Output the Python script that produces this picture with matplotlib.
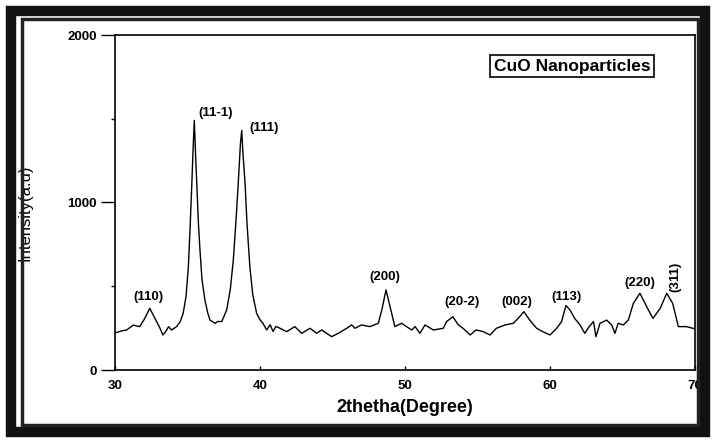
import matplotlib
matplotlib.use("Agg")
import matplotlib.pyplot as plt
from matplotlib.patches import Rectangle

plt.rcParams['font.family'] = ['Liberation Sans', 'DejaVu Sans']

two_theta = [30.0, 30.4, 30.8, 31.26, 31.7, 32.0, 32.4, 32.87, 33.1, 33.3, 33.5, 33.7, 33.9,
             34.25, 34.5, 34.7, 34.9, 35.06, 35.18, 35.3, 35.4, 35.47, 35.55, 35.64, 35.75,
             35.86, 36.0, 36.2, 36.4, 36.55, 36.9, 37.1, 37.36,
             37.7, 37.95, 38.16, 38.35, 38.5, 38.65, 38.74, 38.82, 38.97, 39.1, 39.3, 39.5,
             39.77, 40.0, 40.2, 40.46, 40.7, 40.9, 41.1,
             41.38, 41.84, 42.4, 42.87, 43.45, 43.9, 44.25, 44.94, 45.4, 45.98, 46.32, 46.55,
             47.0, 47.59, 48.16, 48.4, 48.69, 48.97, 49.3, 49.77, 50.1, 50.46, 50.7, 51.03,
             51.38, 51.95, 52.64, 52.87, 53.3, 53.68, 54.0, 54.5, 54.9, 55.4, 55.86, 56.3,
             56.9, 57.47, 57.8, 58.2, 58.6, 59.08, 59.5, 60.0, 60.46, 60.8, 61.1, 61.38,
             61.7, 62.07, 62.4, 62.7, 63.0, 63.17, 63.45, 63.9, 64.25, 64.48, 64.7, 65.06,
             65.4, 65.75, 66.2, 66.67, 67.1, 67.6, 68.05, 68.46, 68.85, 69.4, 69.86, 70.0]
intensity = [221, 232, 239, 268, 259, 300, 368, 289, 250, 209, 230, 259, 239,
             259, 290, 338, 440, 617, 850, 1115, 1350, 1490, 1300, 1115, 880,
             716, 540, 418, 340, 298, 279, 290, 289,
             358, 480, 657, 900, 1115, 1350, 1430, 1300, 1115, 880, 617, 450,
             338, 300, 279, 239, 270, 230, 260,
             249, 229, 259, 219, 249, 219, 239, 199, 219, 249, 269, 249,
             269, 259, 279, 358, 478, 378, 259, 279, 259, 239, 259, 219,
             269, 239, 249, 289, 318, 269, 249, 209, 239, 229, 209, 249,
             269, 279, 308, 348, 298, 249, 229, 209, 249, 289, 385, 358,
             308, 269, 219, 259, 289, 199, 279, 298, 269, 219, 279, 269,
             298, 398, 458, 378, 308, 368, 458, 398, 259, 259, 249, 245]

peak_labels = ["(110)", "(11-1)", "(111)", "(200)", "(20-2)", "(002)", "(113)", "(220)", "(311)"]
peak_x = [32.28, 36.97, 40.28, 48.62, 53.93, 57.72, 61.17, 66.2, 68.62]
peak_y = [436, 1534, 1445, 555, 406, 406, 436, 519, 555]
peak_rot = [0, 0, 0, 0, 0, 0, 0, 0, 90]

x_ticks = [30, 40, 50, 60, 70]
y_ticks = [0, 1000, 2000]
y_minor = [500, 1500]

W, H = 713, 440
fig = plt.figure(figsize=(W / 100, H / 100), dpi=100)
ax = fig.add_axes([115 / W, 70 / H, 580 / W, 335 / H])

ax.plot(two_theta, intensity, color='black', lw=1.0)
ax.set_xlim(30, 70)
ax.set_ylim(0, 2000)
ax.set_xticks(x_ticks)
ax.set_yticks(y_ticks)
ax.set_yticks(y_minor, minor=True)
ax.tick_params(axis='y', which='major', direction='out', length=10, width=1, labelsize=9.5, pad=3)
ax.tick_params(axis='y', which='minor', direction='out', length=3, width=1)
ax.tick_params(axis='x', which='major', direction='in', length=3, width=1, labelsize=9.5, pad=7)
for lab in ax.get_xticklabels() + ax.get_yticklabels():
    lab.set_fontweight('bold')
for s in ax.spines.values():
    s.set_linewidth(1.2)

ax.set_xlabel("2thetha(Degree)", fontsize=13, fontweight='bold', labelpad=5)
ax.set_ylabel("Intensity(a.u)", fontsize=12)
ax.yaxis.set_label_coords(-0.142, 0.47)

for lab, x, y, r in zip(peak_labels, peak_x, peak_y, peak_rot):
    ax.text(x, y, lab, ha='center', va='center', fontsize=9.5, fontweight='bold', rotation=r)

ax.text(0.788, 0.907, "CuO Nanoparticles", transform=ax.transAxes, ha='center', va='center',
        fontsize=12.5, fontweight='bold',
        bbox=dict(boxstyle='square,pad=0.22', fc='white', ec='black', lw=1.2))

# scanned-figure frame
fig.add_artist(Rectangle((11 / W, 1 - 432 / H), 694 / W, 421 / H, transform=fig.transFigure,
                         fill=False, ec='#111111', lw=7.5))
fig.add_artist(Rectangle((22 / W, 1 - 425 / H), 676 / W, 406 / H, transform=fig.transFigure,
                         fill=False, ec='#222222', lw=2.5))

fig.savefig("out.png", dpi=100)
